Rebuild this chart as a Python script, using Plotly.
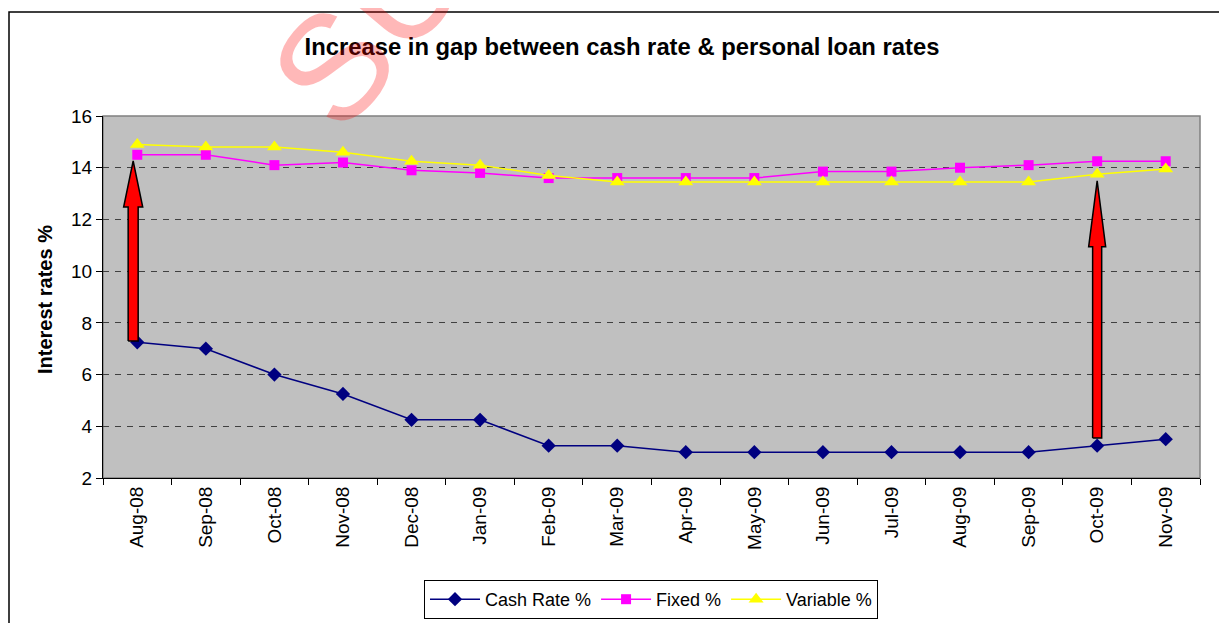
import plotly.graph_objects as go

months = ["Aug-08", "Sep-08", "Oct-08", "Nov-08", "Dec-08", "Jan-09", "Feb-09", "Mar-09",
          "Apr-09", "May-09", "Jun-09", "Jul-09", "Aug-09", "Sep-09", "Oct-09", "Nov-09"]
cash_rate = [7.25, 7.0, 6.0, 5.25, 4.25, 4.25, 3.25, 3.25, 3.0, 3.0, 3.0, 3.0, 3.0, 3.0, 3.25, 3.5]
fixed = [14.5, 14.5, 14.1, 14.2, 13.9, 13.8, 13.6, 13.6, 13.6, 13.6, 13.85, 13.85, 14.0, 14.1, 14.25, 14.25]
variable = [14.9, 14.8, 14.8, 14.6, 14.25, 14.1, 13.7, 13.45, 13.45, 13.45, 13.45, 13.45, 13.45, 13.45, 13.75, 13.95]

# gap arrows (annotation): month, bottom, head base, tip, offset, shaft half-width, head half-width
arrow_month = ["Aug-08", "Oct-09"]
arrow_bottom = [7.3, 3.55]
arrow_headbase = [12.48, 10.94]
arrow_tip = [14.26, 13.49]
arrow_offset = [-0.06, 0.0]
arrow_shaft_hw = [0.073, 0.066]
arrow_head_hw = [0.139, 0.124]

xs = list(range(len(months)))

fig = go.Figure()
fig.add_trace(go.Scatter(x=xs, y=cash_rate, name="Cash Rate %", mode="lines+markers",
                         line=dict(color="#000080", width=1.5),
                         marker=dict(symbol="diamond", size=11, color="#000080")))
fig.add_trace(go.Scatter(x=xs, y=fixed, name="Fixed %", mode="lines+markers",
                         line=dict(color="#FF00FF", width=1.5),
                         marker=dict(symbol="square", size=10, color="#FF00FF")))
fig.add_trace(go.Scatter(x=xs, y=variable, name="Variable %", mode="lines+markers",
                         line=dict(color="#FFFF00", width=1.5),
                         marker=dict(symbol="triangle-up", size=13, color="#FFFF00")))

for m, b, hb, t, off, sw, hw in zip(arrow_month, arrow_bottom, arrow_headbase, arrow_tip,
                                    arrow_offset, arrow_shaft_hw, arrow_head_hw):
    cx = months.index(m) + off
    px = [cx - sw, cx - sw, cx - hw, cx, cx + hw, cx + sw, cx + sw, cx - sw]
    py = [b, hb, hb, t, hb, hb, b, b]
    fig.add_trace(go.Scatter(x=px, y=py, mode="lines", fill="toself", fillcolor="#FF0000",
                             line=dict(color="black", width=1.5), showlegend=False,
                             hoverinfo="skip"))

# page body has an 8px margin; figure is laid out in reference-pixel terms minus 8
OFF = 8
W, H = 1227 - OFF, 623 - OFF
L, R, T, B = 95, 27, 108, 145
pw, ph = W - L - R, H - T - B

def px_x(x):
    return (x - OFF - L) / pw

def px_y(y):
    return (H - B - (y - OFF)) / ph

fig.update_layout(
    width=W, height=H,
    margin=dict(l=L, r=R, t=T, b=B, autoexpand=False),
    paper_bgcolor="white",
    plot_bgcolor="#C0C0C0",
    font=dict(family="Liberation Sans, Arial, sans-serif", color="black", size=19),
    title=dict(text="<b>Increase in gap between cash rate & personal loan rates</b>",
               x=(622 - OFF) / W, xanchor="center", xref="container",
               y=1 - (47 - OFF) / H, yanchor="middle", yref="container",
               font=dict(size=23.8, color="black")),
    showlegend=True,
    legend=dict(orientation="h", x=px_x(651), xanchor="center", y=px_y(580), yanchor="top",
                bordercolor="black", borderwidth=1, bgcolor="white",
                font=dict(size=18), tracegroupgap=0, itemwidth=50),
    xaxis=dict(range=[-0.5, len(months) - 0.5], tickmode="array", tickvals=xs, ticktext=months,
               tickangle=-90, ticks="", showgrid=False, zeroline=False,
               showline=True, linecolor="black", linewidth=1, automargin=False,
               tickfont=dict(size=19),
               minor=dict(tickmode="linear", tick0=0.5, dtick=1, ticks="outside",
                          ticklen=6, tickcolor="black", showgrid=False)),
    yaxis=dict(range=[2, 16], dtick=2, tick0=2, ticks="outside", ticklen=6, tickcolor="black",
               showline=True, linecolor="black", linewidth=1, zeroline=False, automargin=False,
               showgrid=True, gridcolor="#404040", griddash="6px,6px", gridwidth=1,
               tickfont=dict(size=19)),
)

# plot-area border (gray) and outer chart border
fig.add_shape(type="rect", xref="paper", yref="paper", x0=0, y0=0, x1=1, y1=1,
              line=dict(color="#808080", width=1.5), layer="below")
fig.add_shape(type="rect", xref="paper", yref="paper",
              x0=px_x(9), y0=px_y(660), x1=px_x(1260), y1=px_y(12),
              line=dict(color="black", width=1.5))

fig.add_annotation(text="<b>Interest rates %</b>", xref="paper", yref="paper",
                   x=px_x(45), y=px_y(300), textangle=-90, showarrow=False,
                   xanchor="center", yanchor="middle", font=dict(size=20))

# watermark
fig.add_annotation(text="SU", xref="paper", yref="paper", x=px_x(368), y=px_y(25),
                   textangle=-50, showarrow=False, font=dict(size=150, color="rgba(255,0,0,0.28)"),
                   xanchor="center", yanchor="middle")

fig.write_html("out.html")
